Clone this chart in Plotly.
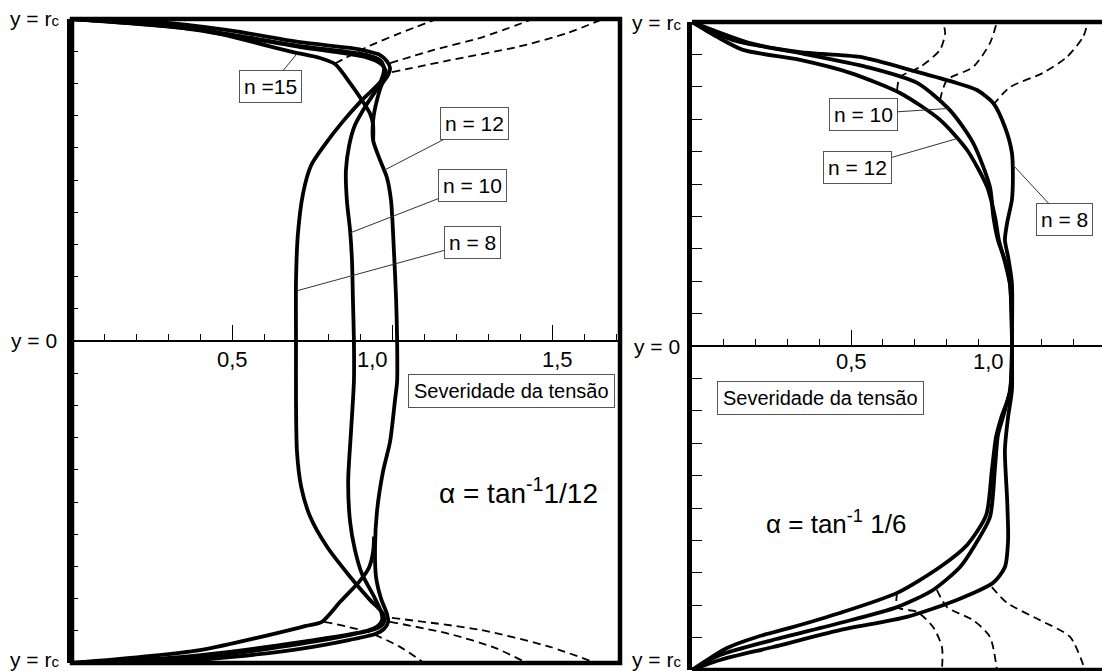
import plotly.graph_objects as go

W, H = 1102, 671

# ---- alpha = tan^-1 1/12 : stress severity (x) against position y/rc (y) ----
L8_X = [0, 0.347, 0.713, 0.916, 0.966, 0.981, 0.969, 0.906, 0.844, 0.788, 0.747, 0.722, 0.706, 0.700, 0.700,
        0.700, 0.703, 0.716, 0.744, 0.797, 0.869, 0.931, 0.972, 0.975, 0.956, 0.713, 0.347, 0]
L8_Y = [1.0, 0.972, 0.913, 0.882, 0.860, 0.838, 0.810, 0.748, 0.679, 0.607, 0.545, 0.458, 0.333, 0.187, 0.0,
        -0.187, -0.343, -0.452, -0.545, -0.639, -0.732, -0.804, -0.847, -0.872, -0.891, -0.941, -0.988, -1.0]

L10_X = [0, 0.347, 0.713, 0.922, 0.963, 0.975, 0.972, 0.956, 0.919, 0.884, 0.866, 0.856, 0.859, 0.869, 0.875,
         0.878, 0.881, 0.881, 0.872, 0.863, 0.869, 0.884, 0.906, 0.944, 0.966, 0.969, 0.956, 0.922, 0.713, 0.347, 0]
L10_Y = [1.0, 0.975, 0.916, 0.888, 0.872, 0.850, 0.826, 0.788, 0.732, 0.670, 0.607, 0.530, 0.436, 0.343, 0.249,
         0.125, 0.0, -0.125, -0.280, -0.436, -0.561, -0.648, -0.723, -0.794, -0.841, -0.866, -0.885, -0.900, -0.935, -0.981, -1.0]

L12_X = [0, 0.297, 0.503, 0.713, 0.869, 0.922, 0.963, 0.984, 0.994, 0.988, 0.969, 0.953, 0.941, 0.941, 0.963,
         0.984, 0.997, 1.006, 1.013, 1.016, 1.016, 1.009, 0.994, 0.972, 0.953, 0.947, 0.950, 0.966, 0.984, 0.988,
         0.975, 0.947, 0.869, 0.713, 0.503, 0.297, 0]
L12_Y = [1.0, 0.988, 0.963, 0.928, 0.910, 0.900, 0.888, 0.869, 0.847, 0.826, 0.798, 0.748, 0.685, 0.623, 0.561,
         0.508, 0.436, 0.280, 0.125, 0.0, -0.125, -0.187, -0.312, -0.405, -0.530, -0.639, -0.732, -0.801, -0.847, -0.872,
         -0.894, -0.910, -0.928, -0.956, -0.981, -0.997, -1.0]

# n = 15 runs into the n = 12 curve, so only its two outer branches are drawn
L15_X = [0, 0.400, 0.691, 0.775, 0.822, 0.869, 0.906, 0.931, 0.941, 0.941, None,
         0.944, 0.941, 0.928, 0.897, 0.838, 0.781, 0.731, 0.400, 0]
L15_Y = [1.0, 0.966, 0.897, 0.879, 0.860, 0.801, 0.748, 0.707, 0.670, 0.623, None,
         -0.607, -0.654, -0.704, -0.748, -0.810, -0.872, -0.885, -0.960, -1.0]

LD1_X = [0.822, 0.922, 1.025, 1.141, None, 0.788, 0.922, 1.025, 1.100]
LD1_Y = [0.862, 0.913, 0.956, 1.0, None, -0.872, -0.903, -0.950, -1.0]
LD2_X = [0.994, 1.128, 1.284, 1.441, None, 0.994, 1.181, 1.322, 1.422]
LD2_Y = [0.863, 0.903, 0.944, 1.0, None, -0.872, -0.910, -0.953, -1.0]
LD3_X = [1.0, 1.181, 1.391, 1.547, 1.659, None, 1.0, 1.275, 1.494, 1.638]
LD3_Y = [0.835, 0.872, 0.913, 0.956, 1.0, None, -0.860, -0.897, -0.950, -1.0]

# ---- alpha = tan^-1 1/6 ----
R8_X = [0, 0.182, 0.340, 0.528, 0.708, 0.821, 0.896, 0.947, 0.984, 1.006, 1.009, 1.006, 0.991, 0.984, 0.994,
        1.006, 1.006, 1.006, 0.994, 0.984, 0.991, 0.994, 0.984, 0.947, 0.833, 0.676, 0.465, 0.255, 0.088, 0]
R8_Y = [1.0, 0.935, 0.907, 0.892, 0.846, 0.815, 0.790, 0.750, 0.676, 0.596, 0.512, 0.451, 0.380, 0.327, 0.275,
        0.194, 0.0, -0.136, -0.219, -0.321, -0.475, -0.599, -0.682, -0.731, -0.784, -0.836, -0.877, -0.929, -0.969, -1.0]

R10_X = [0, 0.129, 0.340, 0.550, 0.708, 0.811, 0.884, 0.937, 0.947, 0.962, 0.984, 1.0, 1.006, 1.0, 0.978,
         0.962, 0.953, 0.937, 0.890, 0.843, 0.758, 0.645, 0.465, 0.255, 0.088, 0]
R10_Y = [1.0, 0.944, 0.904, 0.861, 0.812, 0.728, 0.627, 0.491, 0.404, 0.327, 0.265, 0.194, 0.0, -0.136, -0.219,
         -0.275, -0.373, -0.528, -0.614, -0.682, -0.753, -0.806, -0.855, -0.907, -0.954, -1.0]

R12_X = [0, 0.079, 0.160, 0.340, 0.497, 0.654, 0.780, 0.865, 0.928, 0.953, 0.965, 0.984, 1.0, 1.006, 1.0,
         0.972, 0.956, 0.943, 0.925, 0.865, 0.780, 0.645, 0.465, 0.308, 0.204, 0.110, 0]
R12_Y = [1.0, 0.954, 0.914, 0.883, 0.843, 0.781, 0.698, 0.605, 0.491, 0.398, 0.327, 0.259, 0.188, 0.0, -0.142,
         -0.222, -0.281, -0.383, -0.522, -0.614, -0.682, -0.762, -0.824, -0.870, -0.898, -0.932, -1.0]

RD1_X = [0.645, 0.654, 0.717, 0.780, 0.796, 0.789, None, 0.645, 0.645, 0.708, 0.758, 0.786, 0.786]
RD1_Y = [0.790, 0.830, 0.861, 0.914, 0.966, 1.0, None, -0.762, -0.806, -0.821, -0.867, -0.929, -1.0]
RD2_X = [0.780, 0.802, 0.884, 0.937, 0.959, None, 0.770, 0.802, 0.884, 0.937, 0.959]
RD2_Y = [0.759, 0.821, 0.861, 0.935, 1.0, None, -0.753, -0.806, -0.846, -0.898, -1.0]
RD3_X = [0.947, 1.0, 1.104, 1.179, 1.230, 1.245, None, 0.943, 0.991, 1.094, 1.189, 1.236]
RD3_Y = [0.744, 0.799, 0.843, 0.892, 0.954, 1.0, None, -0.744, -0.793, -0.846, -0.898, -1.0]

# x-axis labels
TICK_TEXT_L = ["0,5", "1,0", "1,5"]
TICK_POS_L = [0.5, 0.9375, 1.516]
TICK_TEXT_R = ["0,5", "1,0"]
TICK_POS_R = [0.503, 0.931]

FONT = "Arial, Liberation Sans, sans-serif"

fig = go.Figure()


def curve(x, y, xa, ya, dashed=False):
    if dashed:
        line = dict(color="black", width=1.8, dash="8px,5px", shape="spline", smoothing=0.7)
    else:
        line = dict(color="black", width=3.8, shape="spline", smoothing=0.7)
    fig.add_trace(go.Scatter(x=x, y=y, mode="lines", line=line, xaxis=xa, yaxis=ya,
                             hoverinfo="skip", showlegend=False, connectgaps=False))


for xs, ys in [(LD1_X, LD1_Y), (LD2_X, LD2_Y), (LD3_X, LD3_Y)]:
    curve(xs, ys, "x", "y", dashed=True)
for xs, ys in [(L8_X, L8_Y), (L10_X, L10_Y), (L12_X, L12_Y), (L15_X, L15_Y)]:
    curve(xs, ys, "x", "y")
for xs, ys in [(RD1_X, RD1_Y), (RD2_X, RD2_Y), (RD3_X, RD3_Y)]:
    curve(xs, ys, "x2", "y2", dashed=True)
for xs, ys in [(R8_X, R8_Y), (R10_X, R10_Y), (R12_X, R12_Y)]:
    curve(xs, ys, "x2", "y2")

# panel placement in pixels
L_LEFT, L_RIGHT, L_TOP, L_BOT = 72, 620, 19, 663
R_LEFT, R_TOP, R_BOT = 692, 22, 670
yl_dom = [1 - L_BOT / H, 1 - L_TOP / H]
yr_dom = [1 - R_BOT / H, 1 - R_TOP / H]

common_x = dict(showgrid=False, zeroline=False, showline=True, linecolor="black", linewidth=1.5,
                ticks="inside", tickcolor="black", tickwidth=1.3, tick0=0, dtick=0.5,
                showticklabels=False, anchor="free",
                minor=dict(ticks="inside", ticklen=6, tickcolor="black", tickwidth=1.2, dtick=0.1, tick0=0, showgrid=False))
common_y = dict(showgrid=False, zeroline=False, showline=True, linecolor="black", linewidth=4.5,
                ticks="inside", tickcolor="black", tickwidth=1.2, tick0=0, dtick=0.1,
                showticklabels=False, range=[-1, 1], mirror=False)

fig.update_layout(
    width=W, height=H, margin=dict(l=0, r=0, t=0, b=0),
    paper_bgcolor="white", plot_bgcolor="white",
    font=dict(family=FONT, color="black", size=21),
    xaxis=dict(common_x, domain=[L_LEFT / W, L_RIGHT / W], range=[0, (L_RIGHT - L_LEFT) / 320],
               position=sum(yl_dom) / 2, ticklen=15),
    yaxis=dict(common_y, domain=yl_dom, anchor="x", ticklen=6),
    xaxis2=dict(common_x, domain=[R_LEFT / W, 1.0], range=[0, (W - R_LEFT) / 318],
                position=sum(yr_dom) / 2, ticklen=15),
    yaxis2=dict(common_y, domain=yr_dom, anchor="x2", ticklen=10),
)

# frame lines
shapes = [
    dict(type="rect", xref="x domain", yref="y domain", x0=0, x1=1, y0=0, y1=1,
         line=dict(color="black", width=4.5)),
    dict(type="line", xref="x2 domain", yref="y2 domain", x0=0, x1=1, y0=1, y1=1,
         line=dict(color="black", width=4.5)),
    dict(type="line", xref="x2 domain", yref="y2 domain", x0=0, x1=1, y0=0, y1=0,
         line=dict(color="black", width=4.5)),
]
fig.update_layout(shapes=shapes)

ann = []
RC = "y = r<span style='font-size:15px'>c</span>"
for xp, yp, txt in [(34, 18, RC), (34, 340, "y = 0"), (34, 659, RC),
                    (657, 22, RC), (657, 346, "y = 0"), (657, 659, RC)]:
    ann.append(dict(x=xp / W, y=1 - yp / H, xref="paper", yref="paper", text=txt,
                    showarrow=False, xanchor="center", yanchor="middle", font=dict(size=21)))

for t, p in zip(TICK_TEXT_L, TICK_POS_L):
    ann.append(dict(x=p, y=-0.058, xref="x", yref="y", text=t, showarrow=False,
                    xanchor="center", yanchor="middle", font=dict(size=22)))
for t, p in zip(TICK_TEXT_R, TICK_POS_R):
    ann.append(dict(x=p, y=-0.048, xref="x2", yref="y2", text=t, showarrow=False,
                    xanchor="center", yanchor="middle", font=dict(size=22)))

box = dict(showarrow=True, arrowhead=0, arrowwidth=1, arrowcolor="#333", bordercolor="#555",
           borderwidth=1, borderpad=4, bgcolor="white", font=dict(size=21))
# curve labels: (text, point on curve, box centre)
for txt, (px_, py_), (bx, by) in [("n =15", (0.703, 0.892), (0.619, 0.791)),
                                  ("n = 12", (0.975, 0.530), (1.259, 0.676)),
                                  ("n = 10", (0.870, 0.336), (1.250, 0.483)),
                                  ("n = 8", (0.703, 0.156), (1.250, 0.305))]:
    ann.append(dict(box, x=px_, y=py_, ax=bx, ay=by, xref="x", yref="y", axref="x", ayref="y", text=txt))
for txt, (px_, py_), (bx, by) in [("n = 10", (0.805, 0.733), (0.538, 0.716)),
                                  ("n = 12", (0.833, 0.640), (0.522, 0.552)),
                                  ("n = 8", (1.009, 0.559), (1.170, 0.389))]:
    ann.append(dict(box, x=px_, y=py_, ax=bx, ay=by, xref="x2", yref="y2", axref="x2", ayref="y2", text=txt))

ann.append(dict(x=1.372, y=-0.156, xref="x", yref="y", text="Severidade da tensão", showarrow=False,
                bordercolor="#555", borderwidth=1, borderpad=5, bgcolor="white", font=dict(size=20)))
ann.append(dict(x=0.403, y=-0.160, xref="x2", yref="y2", text="Severidade da tensão", showarrow=False,
                bordercolor="#555", borderwidth=1, borderpad=5, bgcolor="white", font=dict(size=20)))
ann.append(dict(x=1.394, y=-0.466, xref="x", yref="y", text="α = tan<sup>-1</sup>1/12", showarrow=False,
                font=dict(size=28)))
ann.append(dict(x=0.453, y=-0.546, xref="x2", yref="y2", text="α = tan<sup>-1</sup> 1/6", showarrow=False,
                font=dict(size=26)))
fig.update_layout(annotations=ann)

fig.write_html("out.html")
